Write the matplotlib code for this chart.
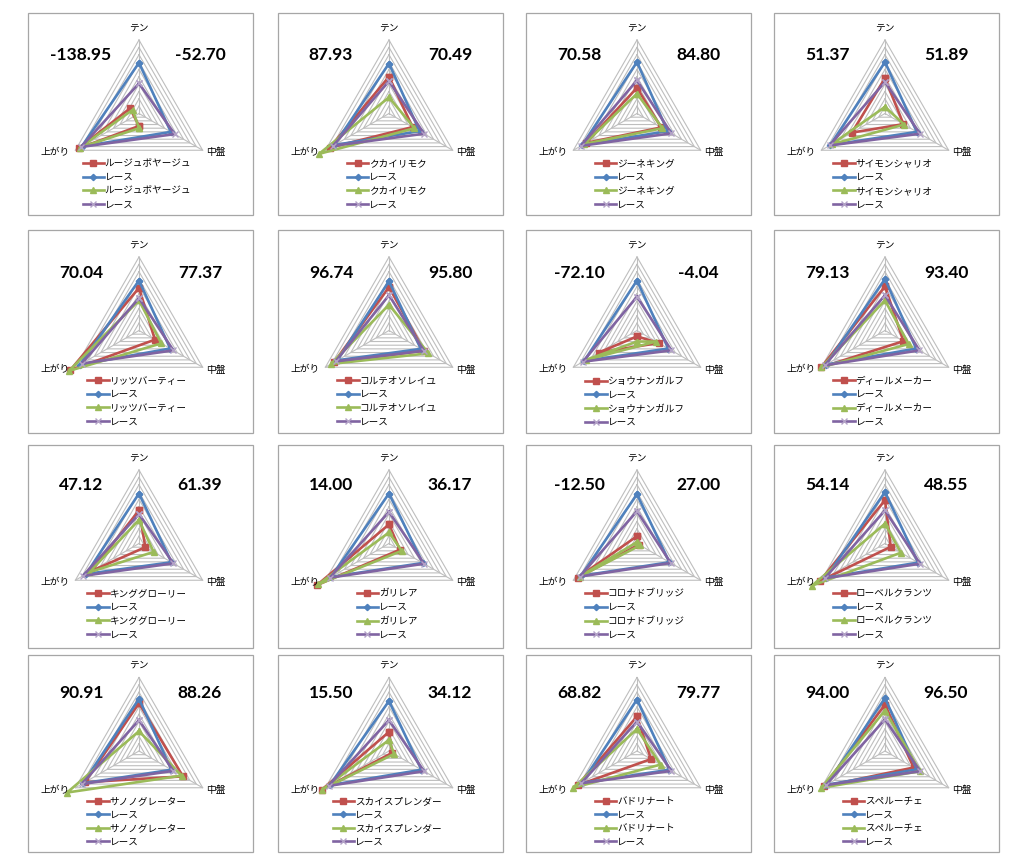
import numpy as np
import matplotlib
matplotlib.use("Agg")
import matplotlib.pyplot as plt
from matplotlib.patches import Rectangle

plt.rcParams['font.family'] = ['Noto Sans CJK JP', 'DejaVu Sans']

# ---------------- data ----------------
axis_labels = ["テン", "中盤", "上がり"]
horse_names = ["ルージュボヤージュ", "クカイリモク", "ジーネキング", "サイモンシャリオ",
               "リッツバーティー", "コルテオソレイユ", "ショウナンガルフ", "ディールメーカー",
               "キンググローリー", "ガリレア", "コロナドブリッジ", "ローベルクランツ",
               "サノノグレーター", "スカイスプレンダー", "バドリナート", "スペルーチェ"]
race_label = "レース"
left_scores = ["-138.95", "87.93", "70.58", "51.37",
               "70.04", "96.74", "-72.10", "79.13",
               "47.12", "14.00", "-12.50", "54.14",
               "90.91", "15.50", "68.82", "94.00"]
right_scores = ["-52.70", "70.49", "84.80", "51.89",
                "77.37", "95.80", "-4.04", "93.40",
                "61.39", "36.17", "27.00", "48.55",
                "88.26", "34.12", "79.77", "96.50"]

# values per panel: [テン, 中盤, 上がり] on a 0..100 radial scale
horse_a = [[-17, -14, 95], [50, 37, 93], [35, 38, 80], [48, 29, 52],
           [58, 25, 108], [59, 55, 86], [-8, 34, 60], [60, 29, 100],
           [45, 10, 75], [26, 17, 113], [10, 3, 93], [59, 9, 102],
           [65, 69, 85], [26, 5, 106], [47, 22, 93], [63, 45, 96]]
race_a = [[69, 50, 90], [68, 48, 86], [70, 48, 86], [70, 50, 86],
          [68, 49, 93], [67, 50, 81], [68, 49, 83], [70, 49, 93],
          [68, 51, 83], [68, 53, 91], [67, 51, 88], [70, 52, 93],
          [71, 51, 88], [68, 51, 93], [70, 51, 87], [72, 50, 92]]
horse_b = [[-20, -10, 93], [22, 40, 110], [27, 40, 83], [9, 30, 84],
           [41, 35, 110], [35, 62, 91], [-15, 30, 80], [41, 37, 100],
           [32, 23, 78], [15, 20, 111], [2, 5, 90], [27, 25, 115],
           [27, 67, 113], [15, 8, 105], [30, 37, 100], [55, 55, 100]]
race_b = [[41, 56, 91], [44, 55, 88], [45, 54, 88], [43, 55, 87],
          [44, 54, 90], [48, 55, 84], [46, 54, 85], [48, 54, 95],
          [40, 54, 88], [43, 55, 93], [44, 53, 90], [45, 55, 95],
          [42, 54, 90], [42, 55, 95], [40, 54, 88], [43, 55, 93]]

# ---------------- layout ----------------
W, H = 1024, 866
fig = plt.figure(figsize=(W / 100, H / 100), dpi=100)
fig.patch.set_facecolor("white")

col_x0 = [28, 278, 526, 774]
col_w = [225, 225, 225, 225]
row_y0 = [13, 230, 445, 655]
row_h = [202, 203, 203, 197]
row_cy = [113.5, 330.5, 543.5, 751.0]
R = 73.5

C_RED, C_BLUE, C_GREEN, C_PURPLE = "#C0504D", "#4F81BD", "#9BBB59", "#8064A2"
GRID = "#BEBEBE"

thetas = np.array([np.pi / 2, -np.pi / 6, 7 * np.pi / 6])


def fx(x):
    return x / W


def fy(y):
    return 1 - y / H


def polar_pts(vals):
    r = np.asarray(vals, dtype=float) / 100.0
    th = thetas.copy()
    neg = r < 0
    th[neg] = th[neg] + np.pi
    r = np.abs(r)
    th = np.append(th, th[0])
    r = np.append(r, r[0])
    return th, r


styles = [
    dict(color=C_RED, marker="s", markersize=4.5, markerfacecolor=C_RED, markeredgecolor=C_RED),
    dict(color=C_BLUE, marker="D", markersize=3.2, markerfacecolor=C_BLUE, markeredgecolor=C_BLUE),
    dict(color=C_GREEN, marker="^", markersize=5.0, markerfacecolor=C_GREEN, markeredgecolor=C_GREEN),
    dict(color=C_PURPLE, marker="x", markersize=5.0, markeredgecolor="#B3A2C7", markeredgewidth=1.0),
]

num_font = ["Lato", "Open Sans", "DejaVu Sans"]

for i in range(16):
    rr, cc = divmod(i, 4)
    x0, y0 = col_x0[cc], row_y0[rr]
    cx = x0 + 111
    cy = row_cy[rr]

    fig.add_artist(Rectangle((fx(x0), fy(y0 + row_h[rr])), col_w[cc] / W, row_h[rr] / H,
                             transform=fig.transFigure, fill=False,
                             edgecolor="#A6A6A6", linewidth=0.9))

    ax = fig.add_axes([fx(cx - R), fy(cy + R), 2 * R / W, 2 * R / H], projection="polar")
    ax.set_axis_off()
    ax.set_ylim(0, 1)

    # ring grid (10 rings) and spokes
    ring_th = np.append(thetas, thetas[0])
    for k in range(1, 11):
        ax.plot(ring_th, np.full(4, k / 10), color=GRID, lw=0.8, clip_on=False, zorder=1)
    for t in thetas:
        ax.plot([t, t], [0, 1], color=GRID, lw=0.8, clip_on=False, zorder=1)

    series = [horse_a[i], race_a[i], horse_b[i], race_b[i]]
    labels = [horse_names[i], race_label, horse_names[i], race_label]
    handles = []
    for s, (vals, st) in enumerate(zip(series, styles)):
        th, r = polar_pts(vals)
        ln, = ax.plot(th, r, lw=1.9, clip_on=False, zorder=3 + s, **st)
        handles.append(ln)

    fig.legend(handles, labels, loc="upper center",
               bbox_to_anchor=(fx(cx - 2), fy(cy + 46)), bbox_transform=fig.transFigure,
               frameon=False, fontsize=6.9, handlelength=2.2, handletextpad=0.1,
               labelspacing=0.48, borderpad=0.0, borderaxespad=0.0)

    fig.text(fx(cx), fy(cy - 86), axis_labels[0], ha="center", va="center", fontsize=7)
    fig.text(fx(cx + 77), fy(cy + 39), axis_labels[1], ha="center", va="center", fontsize=7)
    fig.text(fx(cx - 84), fy(cy + 39), axis_labels[2], ha="center", va="center", fontsize=7)

    fig.text(fx(cx - 58), fy(cy - 58), left_scores[i], ha="center", va="center",
             fontsize=12.5, fontweight="bold", family=num_font)
    fig.text(fx(cx + 61), fy(cy - 58), right_scores[i], ha="center", va="center",
             fontsize=12.5, fontweight="bold", family=num_font)

fig.savefig("out.png", dpi=100, facecolor="white")
